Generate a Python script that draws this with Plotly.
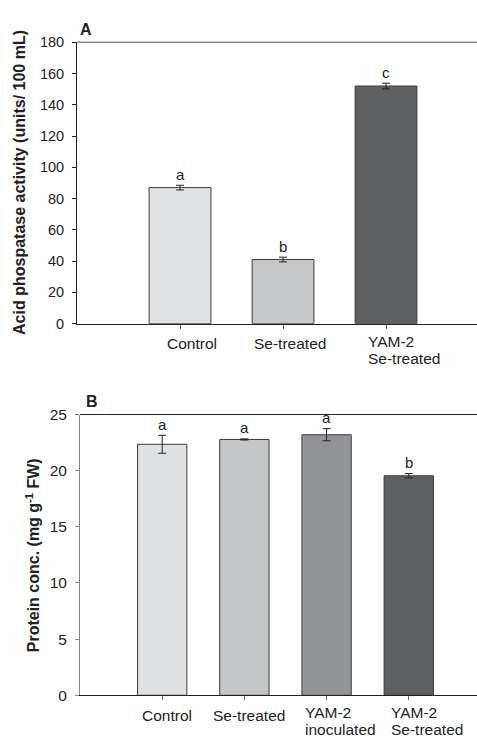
import plotly.graph_objects as go

# ---------------- data ----------------
a_categories = ["Control", "Se-treated", "YAM-2<br>Se-treated"]
a_values = [87.0, 41.0, 152.0]
a_errors = [1.5, 1.5, 1.8]
a_letters = ["a", "b", "c"]
a_yticks = [0, 20, 40, 60, 80, 100, 120, 140, 160, 180]

b_categories = ["Control", "Se-treated", "YAM-2<br>inoculated", "YAM-2<br>Se-treated"]
b_values = [22.35, 22.78, 23.2, 19.55]
b_errors = [0.8, 0.05, 0.54, 0.2]
b_letters = ["a", "a", "a", "b"]
b_yticks = [0, 5, 10, 15, 20, 25]

# ---------------- style ----------------
a_colors = ["#e1e2e4", "#c6c7c9", "#5f6062"]
b_colors = ["#dfe0e2", "#c5c6c8", "#939497", "#5f6063"]
a_label_shift = [12, 7, -20]      # px; multi-line labels are left-anchored
b_label_shift = [5, 4.5, -24, -20]
FONT = "Liberation Sans, Arial, sans-serif"
W, H = 477, 745

fig = go.Figure()

fig.add_trace(go.Bar(
    x=a_categories, y=a_values, width=0.6, xaxis="x", yaxis="y",
    marker=dict(color=a_colors, line=dict(color="#3c3c3c", width=1)),
    error_y=dict(type="data", array=a_errors, color="#222", thickness=1, width=4),
    showlegend=False, hoverinfo="skip",
))
fig.add_trace(go.Bar(
    x=b_categories, y=b_values, width=0.6, xaxis="x2", yaxis="y2",
    marker=dict(color=b_colors, line=dict(color="#3c3c3c", width=1)),
    error_y=dict(type="data", array=b_errors, color="#222", thickness=1, width=4),
    showlegend=False, hoverinfo="skip",
))

tickfont = dict(family=FONT, size=14.5, color="#222")
fig.update_layout(
    width=W, height=H, autosize=False,
    margin=dict(l=0, r=0, t=0, b=0),
    paper_bgcolor="white", plot_bgcolor="white",
    font=dict(family=FONT, color="#222"),
    xaxis=dict(domain=[77 / W, 1], anchor="y", type="category",
               categoryorder="array", categoryarray=a_categories,
               range=[-1, 2.883], showticklabels=False,
               showline=True, linecolor="#222", linewidth=1,
               ticks="outside", ticklen=4, tickcolor="#666", showgrid=False,
               zeroline=False),
    yaxis=dict(domain=[1 - 322 / H, 1 - 34 / H], anchor="x",
               range=[0, 180], tickvals=a_yticks, tickfont=tickfont,
               showline=True, linecolor="#222", linewidth=1,
               ticks="outside", ticklen=4, tickcolor="#222",
               ticklabelstandoff=5, showgrid=False, zeroline=False),
    xaxis2=dict(domain=[80 / W, 1], anchor="y2", type="category",
                categoryorder="array", categoryarray=b_categories,
                range=[-1, 3.83], showticklabels=False,
                showline=True, linecolor="#222", linewidth=1,
                ticks="outside", ticklen=4, tickcolor="#666", showgrid=False,
                zeroline=False),
    yaxis2=dict(domain=[1 - 702.3 / H, 1 - 415 / H], anchor="x2",
                range=[0, 25], tickvals=b_yticks,
                tickfont=dict(family=FONT, size=15.5, color="#222"),
                showline=True, linecolor="#888", linewidth=1,
                ticks="outside", ticklen=4, tickcolor="#888",
                ticklabelstandoff=5, showgrid=False, zeroline=False),
)

# top frame lines
fig.add_shape(type="line", xref="x domain", yref="y domain", x0=0, x1=1, y0=1, y1=1,
              line=dict(color="#8a8a8a", width=1.5))
fig.add_shape(type="line", xref="x2 domain", yref="y2 domain", x0=0, x1=1, y0=1, y1=1,
              line=dict(color="#222", width=1))

ann = []
# significance letters
for cats, vals, errs, lets, xr, yr in [
    (a_categories, a_values, a_errors, a_letters, "x", "y"),
    (b_categories, b_values, b_errors, b_letters, "x2", "y2"),
]:
    for c, v, e, l in zip(cats, vals, errs, lets):
        ann.append(dict(x=c, y=v + e, xref=xr, yref=yr, text=l, showarrow=False,
                        yanchor="middle", yshift=11,
                        font=dict(family=FONT, size=15, color="#222")))

# category labels
for cats, shifts, xr, yr in [
    (a_categories, a_label_shift, "x", "y domain"),
    (b_categories, b_label_shift, "x2", "y2 domain"),
]:
    for c, s in zip(cats, shifts):
        lines = c.split("<br>")
        if len(lines) == 1:
            ann.append(dict(x=c, y=0, xref=xr, yref=yr, text=lines[0], showarrow=False,
                            xanchor="center", yanchor="middle", xshift=s, yshift=-20,
                            font=dict(family=FONT, size=15.5, color="#222")))
        else:
            for i, ln in enumerate(lines):
                ann.append(dict(x=c, y=0, xref=xr, yref=yr, text=ln, showarrow=False,
                                xanchor="left", yanchor="middle", xshift=s,
                                yshift=-17.5 - 17 * i,
                                font=dict(family=FONT, size=15.5, color="#222")))

# axis titles
ann.append(dict(x=20 / W, y=1 - 178 / H, xref="paper", yref="paper",
                text="<b>Acid phospatase activity (units/ 100 mL)</b>", textangle=-90,
                showarrow=False, xanchor="center", yanchor="middle",
                font=dict(family=FONT, size=16, color="#222")))
ann.append(dict(x=33 / W, y=1 - 559 / H, xref="paper", yref="paper",
                text="<b>Protein conc. (mg g<sup>-1</sup> FW)</b>", textangle=-90,
                showarrow=False, xanchor="center", yanchor="middle",
                font=dict(family=FONT, size=16, color="#222")))
# panel letters
ann.append(dict(x=86 / W, y=1 - 21 / H, xref="paper", yref="paper", text="<b>A</b>",
                showarrow=False, xanchor="center", yanchor="middle",
                font=dict(family=FONT, size=16, color="#222")))
ann.append(dict(x=91.5 / W, y=1 - 402 / H, xref="paper", yref="paper", text="<b>B</b>",
                showarrow=False, xanchor="center", yanchor="middle",
                font=dict(family=FONT, size=16, color="#222")))

fig.update_layout(annotations=ann)
fig.write_html("out.html",
               config={"displayModeBar": False, "staticPlot": True},
               post_script="document.documentElement.style.margin='0';"
                           "document.body.style.margin='0';"
                           "document.body.style.padding='0';"
                           "document.documentElement.style.overflow='hidden';")
